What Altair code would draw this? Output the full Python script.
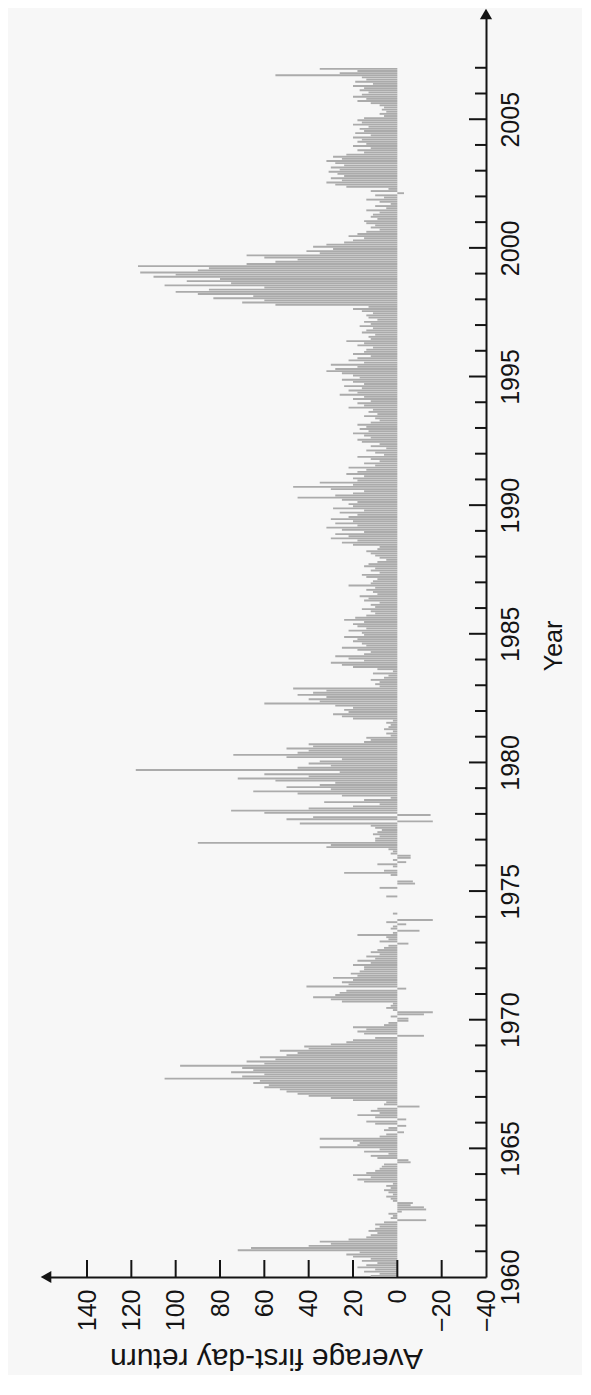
import altair as alt
import pandas as pd

# Monthly average first-day returns (%), Jan..Dec of each year
returns_1960s = [
    12, 8, 15, 10, 18, 14, 9, 16, 12, 20, 23, 17,        # 1960
    72, 66, 40, 30, 35, 22, 14, 12, 9, 13, 10, 8,        # 1961
    10, 6, -13, 3, 2, 4, -2, -13, -12, -6, -7, 2,        # 1962
    3, 5, 2, 4, 6, 3, 5, 2, 15, 18, 12, 20,              # 1963
    14, 10, 8, 7, 6, -6, -5, 9, 12, 4, 15, 8,            # 1964
    35, 18, 17, 20, 35, 8, 5, -3, 6, 4, -4, 10,          # 1965
    14, -4, 10, 18, 8, 12, 9, -10, 6, 5, 20, 30,         # 1966
    40, 45, 50, 53, 60, 58, 65, 62, 105, 70, 60, 75,     # 1967
    65, 70, 98, 60, 68, 55, 62, 50, 45, 53, 40, 42,      # 1968
    30, 23, 20, 10, -12, 15, 18, 14, 20, 6, 4, -5,       # 1969
]
returns_1970s = [
    -5, 3, -12, -16, 2, 5, 3, 2, 25, 30, 38, 28,         # 1970
    26, 23, -4, 41, 22, 25, 20, 29, 18, 21, 17, 15,      # 1971
    15, 20, 12, 18, 10, 14, 8, 12, 9, 6, 4, -5,          # 1972
    8, 4, 5, 18, 2, -10, 3, 2, -4, 5, -16, 0,            # 1973
    0, 2, 0, 0, 0, 0, 0, 0, 0, 5, 0, 0,                  # 1974
    0, 8, 0, -8, -7, 0, 0, 3, 24, 6, 0, 2,               # 1975
    9, -4, 2, -6, -6, 3, 2, 4, 32, 30, 90, 10,           # 1976
    10, 8, 11, 9, 7, 10, 12, 44, -16, 50, 38, -15,       # 1977
    60, 75, 40, 20, 8, 33, 15, 3, 25, 45, 65, 30,        # 1978
    50, 35, 28, 55, 72, 40, 60, 26, 118, 45, 30, 40,     # 1979
]
returns_1980s = [
    35, 25, 50, 74, 45, 40, 50, 38, 40, 15, 12, 14,      # 1980
    3, 5, 2, 6, 4, 3, 5, 2, 20, 25, 29, 22,              # 1981
    24, 20, 28, 60, 35, 40, 32, 45, 38, 32, 47, 8,       # 1982
    10, 8, 12, 6, 4, 11, 2, 9, 20, 25, 30, 15,           # 1983
    22, 28, 15, 12, 18, 25, 14, 16, 20, 18, 24, 15,      # 1984
    16, 22, 14, 18, 20, 15, 24, 19, 14, 10, 12, 16,      # 1985
    10, 12, 8, 15, 13, 17, 9, 11, 14, 10, 22, 12,        # 1986
    11, 9, 14, 16, 8, 12, 10, 15, 13, 9, 5, 8,           # 1987
    10, 12, 14, 9, 8, 20, 25, 18, 30, 22, 28, 15,        # 1988
    25, 32, 18, 28, 20, 30, 22, 18, 26, 15, 29, 20,      # 1989
]
returns_1990s = [
    22, 18, 25, 45, 28, 20, 15, 30, 47, 20, 35, 18,      # 1990
    20, 15, 23, 18, 14, 22, 10, 15, 8, 12, 18, 6,        # 1991
    10, 14, 5, 12, 8, 16, 18, 12, 15, 20, 13, 17,        # 1992
    14, 18, 12, 8, 10, 15, 9, 13, 11, 22, 15, 18,        # 1993
    12, 20, 15, 26, 18, 22, 16, 24, 15, 20, 25, 17,      # 1994
    20, 25, 32, 28, 18, 30, 15, 22, 18, 12, 20, 15,      # 1995
    14, 11, 18, 15, 23, 12, 13, 10, 16, 14, 11, 17,      # 1996
    12, 15, 9, 13, 14, 11, 16, 20, 13, 55, 70, 60,       # 1997
    83, 65, 90, 100, 85, 60, 105, 75, 95, 80, 110, 100,  # 1998
    116, 90, 85, 117, 68, 55, 45, 60, 68, 35, 41, 29,    # 1999
]
returns_2000s = [
    38, 32, 24, 20, 15, 22, 18, 14, 8, 12, 10, 14,       # 2000
    15, 9, 12, 11, 8, 14, 5, 10, 3, 8, 14, 6,            # 2001
    10, -3, 12, 4, 23, 28, 32, 25, 30, 24, 27, 31,       # 2002
    26, 30, 24, 28, 32, 25, 29, 23, 15, 18, 12, 20,      # 2003
    14, 18, 16, 20, 12, 19, 15, 17, 13, 20, 16, 18,      # 2004
    15, 6, 8, 5, 7, 6, 8, 12, 18, 14, 20, 16,            # 2005
    13, 17, 15, 20, 11, 19, 14, 16, 55, 26, 18, 35,      # 2006
]

FIRST_YEAR = 1960
year_labels = [1960, 1965, 1970, 1975, 1980, 1985, 1990, 1995, 2000, 2005]
return_labels = [-40, -20, 0, 20, 40, 60, 80, 100, 120, 140]
return_ticks = [-20, 0, 20, 40, 60, 80, 100, 120, 140]
year_ticks_major = [1965, 1970, 1975, 1980, 1985, 1990, 1995, 2000, 2005]
year_ticks_minor = [y for y in range(1961, 2008) if y not in year_ticks_major]
X_MAX = 158.5      # end of the return axis (arrow)
Y_MAX = 2009.09    # end of the year axis (arrow)

values = returns_1960s + returns_1970s + returns_1980s + returns_1990s + returns_2000s
rows = []
for i, v in enumerate(values):
    t0 = FIRST_YEAR + i / 12
    rows.append({"t0": t0 + 0.06 / 12, "t1": t0 + 0.94 / 12, "ret": v, "base": 0})
df = pd.DataFrame(rows)

FONT = "'Liberation Sans', Arial, Helvetica, sans-serif"
INK = "#141414"

xscale = alt.Scale(domain=[-40, X_MAX], reverse=True, nice=False, zero=False)
yscale = alt.Scale(domain=[FIRST_YEAR, Y_MAX], nice=False, zero=False)

x_axis = alt.Axis(
    orient="bottom", values=return_labels, labelAngle=270, labelAlign="right",
    labelBaseline="middle", ticks=False, grid=False, domain=True,
    domainColor=INK, domainWidth=2, labelPadding=12, labelFontSize=25,
    labelFont=FONT, labelColor=INK, title="Average first-day return",
    titleAngle=180, titleFontSize=30, titleFont=FONT, titleFontWeight="normal",
    titleColor=INK, titlePadding=41, labelOverlap=False,
)
y_axis = alt.Axis(
    orient="right", values=year_labels, labelAngle=270, labelAlign="center",
    labelBaseline="top", ticks=False, grid=False, domain=True,
    domainColor=INK, domainWidth=2, labelPadding=12, labelFontSize=25,
    labelFont=FONT, labelColor=INK, title="Year", titleAngle=270,
    titleFontSize=25, titleFont=FONT, titleFontWeight="normal",
    titleColor=INK, titlePadding=43, labelOverlap=False, format="d",
)


def xf(field):
    return alt.X(field, type="quantitative", scale=xscale, axis=x_axis)


def yf(field):
    return alt.Y(field, type="quantitative", scale=yscale, axis=y_axis)


bars = alt.Chart(df).mark_rect(color="#ababab").encode(
    x=xf("ret"), x2="base:Q", y=yf("t0"), y2="t1:Q",
)

# inward-pointing ticks drawn as custom symbol paths (unit box scaled by sqrt(size)/2)
major = alt.Chart(pd.DataFrame({"yr": year_ticks_major, "r": -40})).mark_point(
    shape="M-1,0L0,0", size=17 * 17 * 4, strokeWidth=2, color=INK, filled=False, opacity=1
).encode(x=xf("r"), y=yf("yr"))

minor = alt.Chart(pd.DataFrame({"yr": year_ticks_minor, "r": -40})).mark_point(
    shape="M-1,0L0,0", size=11 * 11 * 4, strokeWidth=2, color=INK, filled=False, opacity=1
).encode(x=xf("r"), y=yf("yr"))

rticks = alt.Chart(pd.DataFrame({"r": return_ticks, "yr": FIRST_YEAR})).mark_point(
    shape="M0,0L0,-1", size=17 * 17 * 4, strokeWidth=2, color=INK, filled=False, opacity=1
).encode(x=xf("r"), y=yf("yr"))

arrow_x = alt.Chart(pd.DataFrame({"r": [X_MAX], "yr": [FIRST_YEAR]})).mark_point(
    shape="triangle-left", filled=True, size=150, color=INK, opacity=1
).encode(x=xf("r"), y=yf("yr"))

arrow_y = alt.Chart(pd.DataFrame({"r": [-40], "yr": [Y_MAX]})).mark_point(
    shape="triangle-up", filled=True, size=150, color=INK, opacity=1
).encode(x=xf("r"), y=yf("yr"))

chart = alt.layer(bars, major, minor, rticks, arrow_x, arrow_y).properties(
    width=440, height=1263,
    padding={"left": 32, "top": 0, "right": 16, "bottom": 2},
    background="#f7f7f7",
).configure_view(stroke=None)

chart.save("out.html", embed_options={"renderer": "svg", "actions": False})
